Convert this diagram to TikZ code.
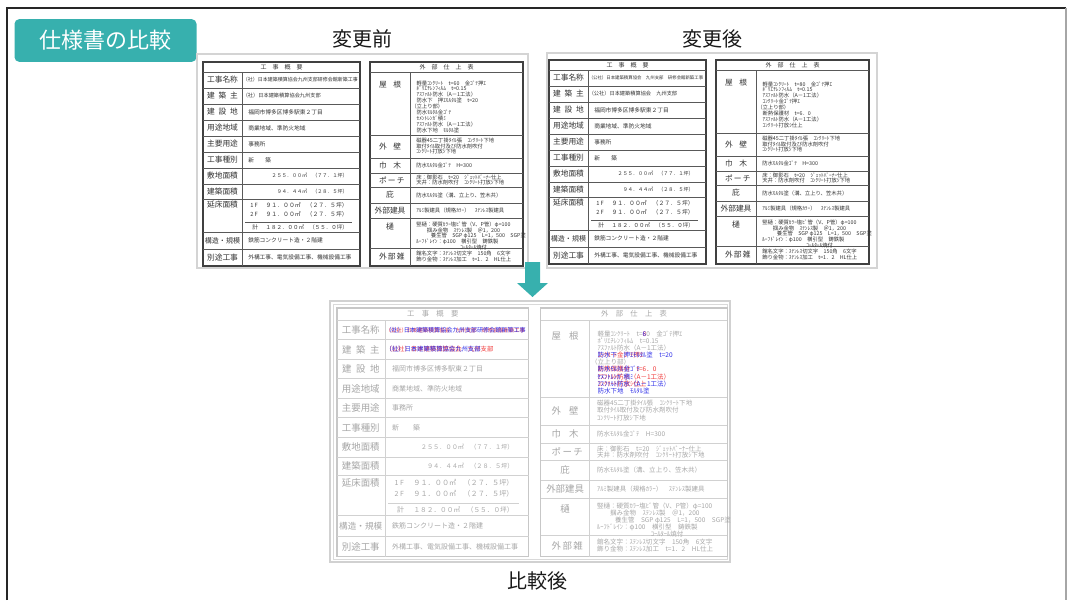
\documentclass[tikz,border=0pt]{standalone}
\usepackage{fontspec}
\newfontfamily\jp{Noto Sans CJK JP}

\definecolor{slideteal}{HTML}{37B0AE}
\definecolor{tabink}{HTML}{333333}
\definecolor{difold}{HTML}{3030E8}
\definecolor{difnew}{HTML}{F03A3A}

\newcommand{\jfont}[2]{\jp\fontsize{#1}{#2}\selectfont}
\newcommand{\jlab}[1]{\makebox[23pt][s]{#1}}
\newcommand{\jlabs}[1]{\makebox[16.5pt][s]{#1}}
\newcommand{\dif}[2]{\leavevmode\rlap{\color{difnew}#2}{\color{difold}#1}}

% texts that differ between the two versions
\newcommand{\nameA}{{\fontsize{3.75pt}{4pt}\selectfont （社）日本建築積算協会九州支部研修会館新築工事}}
\newcommand{\nameB}{{\fontsize{3.3pt}{4pt}\selectfont （公社）日本建築積算協会　九州支部　研修会館新築工事}}
\newcommand{\ownerA}{{\fontsize{3.9pt}{4pt}\selectfont （社）日本建築積算協会九州支部}}
\newcommand{\ownerB}{{\fontsize{3.9pt}{4pt}\selectfont （公社）日本建築積算協会　九州支部}}

\newcommand{\spectable}[4]{%
  % 工事概要
  \draw[tabedge] (0,0) rectangle (157,204);
  \foreach \yy in {10,26,42,58,74,90,106,122,137,170,187}
    \draw[tabrule] (0,\yy) -- (157,\yy);
  \draw[tabrule] (39.5,10) -- (39.5,204);
  \draw[tabrule] (42,160) -- (149,160);
  \node[hdr] (#1-hl) at (78.5,5) {工　事　概　要};
  \foreach \lb/\yy [count=\i] in {工事名称/18, \jlab{建 築 主}/34, \jlab{建 設 地}/50,
      用途地域/66, 主要用途/82, 工事種別/98, 敷地面積/114, 建築面積/129.5,
      延床面積/143, {\fontsize{5.3pt}{6pt}\selectfont 構造・規模}/178.5, 別途工事/195.5}
    \node[lbl] (#1-l\i) at (19.5,\yy) {\lb};
  \node[val] (#1-v1) at (39.5,18) {#2};
  \node[val] (#1-v2) at (39.5,34) {#3};
  \node[val] (#1-v3) at (45,50) {福岡市博多区博多駅東２丁目};
  \node[val] (#1-v4) at (45,66) {商業地域、準防火地域};
  \node[val] (#1-v5) at (45,82) {事務所};
  \node[val] (#1-v6) at (45,98) {新　　築};
  \node[num] (#1-v7) at (145,114) {２５５．００㎡　（７７．１坪）};
  \node[num] (#1-v8) at (145,129.5) {９４．４４㎡　（２８．５坪）};
  \node[val] (#1-f1) at (47,143) {1 F};
  \node[num, font=\jfont{4.4pt}{5pt}] (#1-v9) at (145,143) {９１．００㎡　（２７．５坪）};
  \node[val] (#1-f2) at (47,152.5) {2 F};
  \node[num, font=\jfont{4.4pt}{5pt}] (#1-v10) at (145,152.5) {９１．００㎡　（２７．５坪）};
  \node[val] (#1-f3) at (49,165.5) {計};
  \node[num, font=\jfont{4.1pt}{5pt}] (#1-v11) at (145,165.5) {１８２．００㎡　（５５．０坪）};
  \node[val] (#1-v12) at (45,178.5) {鉄筋コンクリート造・２階建};
  \node[val] (#1-v13) at (45,195.5) {外構工事、電気設備工事、機械設備工事};
  % 外部仕上表
  \draw[tabedge] (167,0) rectangle (320,204);
  \foreach \yy in {10,73,96,111,125,141,156,186}
    \draw[tabrule] (167,\yy) -- (320,\yy);
  \draw[tabrule] (207,10) -- (207,204);
  \node[hdr] (#1-hr) at (243.5,5) {外　部　仕　上　表};
  \foreach \lb/\yy [count=\i] in {\jlabs{屋 根}/23, \jlabs{外 壁}/84.5, \jlabs{巾 木}/103.5,
      \jlabs{ポ ー チ}/118, 庇/133, 外部建具/148.5, 樋/165, \jlabs{外 部 雑}/195}
    \node[lbl] (#1-r\i) at (187,\yy) {\lb};
  \node[spec] (#1-s1) at (208,44.5) {#4};
  \node[spec] (#1-s2) at (213,84) {磁器45二丁掛ﾀｲﾙ張　ｺﾝｸﾘｰﾄ下地\\取付ﾀｲﾙ取付及び防水剤吹付\\ｺﾝｸﾘｰﾄ打放ｼ下地};
  \node[spec] (#1-s3) at (213,103.5) {防水ﾓﾙﾀﾙ金ｺﾞﾃ　H=300};
  \node[spec, font=\jfont{4pt}{4.1pt}] (#1-s4) at (213,118) {床：御影石　t=20　ｼﾞｪｯﾄﾊﾞｰﾅｰ仕上\\天井：防水剤吹付　ｺﾝｸﾘｰﾄ打放ｼ下地};
  \node[spec] (#1-s5) at (213,133) {防水ﾓﾙﾀﾙ塗（溝、立上り、笠木共）};
  \node[spec] (#1-s6) at (213,148.5) {ｱﾙﾐ製建具（規格ｶﾗｰ）　ｽﾃﾝﾚｽ製建具};
  \node[spec] (#1-s7) at (213,173.8) {竪樋：硬質ｶﾗｰ塩ﾋﾞ管（V、P管）φ=100\\
    \hspace*{8pt}掴み金物　ｽﾃﾝﾚｽ製　＠1，200\\
    \hspace*{11pt}養生管　SGP φ125　L=1，500　SGP塗\\
    ﾙｰﾌﾄﾞﾚｲﾝ：φ100　横引型　鋳鉄製\\
    \hspace*{33pt}ｺｰﾙﾀｰﾙ焼付};
  \node[spec] (#1-s8) at (213,194.5) {館名文字：ｽﾃﾝﾚｽ切文字　150角　6文字\\飾り金物：ｽﾃﾝﾚｽ加工　t=1．2　HL仕上};
}

\begin{document}
\begin{tikzpicture}[x=0.75pt, y=-0.75pt,
  titlebox/.style={fill=slideteal, text=white, rounded corners=3.5pt, inner sep=0pt,
    minimum width=136.5pt, minimum height=32pt, font=\jfont{16.5pt}{18pt}},
  caption/.style={inner sep=0pt, text=black!90, font=\jfont{15pt}{16pt}},
  imgframe/.style={draw=black!17, line width=1.5pt},
  tabedge/.style={draw=black!75, line width=0.9pt},
  tabrule/.style={draw=black!65, line width=0.5pt},
  tabtxt/.style={inner sep=0pt, text=tabink},
  hdr/.style={tabtxt, font=\jfont{4.5pt}{5pt}},
  lbl/.style={tabtxt, font=\jfont{5.8pt}{6pt}},
  val/.style={tabtxt, anchor=west, font=\jfont{4.3pt}{5pt}},
  num/.style={tabtxt, anchor=east, font=\jfont{3.8pt}{5pt}},
  spec/.style={tabtxt, anchor=west, align=left, font=\jfont{4pt}{4.4pt}}]
  \useasboundingbox (0,0) rectangle (1067,600);

  % slide border
  \draw[line width=1.5pt, black!85] (6.5,600) -- (6.5,7.5) -- (1066,7.5);
  \draw[line width=0.8pt, black!35] (1066,7.5) -- (1066,600);

  \node[titlebox] (title) at (105.5,40.5) {仕様書の比較};
  \node[caption] (before) at (362,39) {変更前};
  \node[caption] (after) at (712,39) {変更後};
  \node[caption] (result) at (537,581) {比較後};

  % 変更前
  \draw[imgframe] (197,54) rectangle (528,268);
  \begin{scope}[shift={(203,62)}]
    \spectable{bef}{\nameA}{\ownerA}{%
      　軽量ｺﾝｸﾘｰﾄ　t=60　金ｺﾞﾃ押ｴ\\　ﾎﾟﾘｴﾁﾚﾝﾌｨﾙﾑ　t=0.15\\　ｱｽﾌｧﾙﾄ防水（A－1工法）\\
      　防水下　押ｴﾓﾙﾀﾙ塗　t=20\\（立上り部）\\　防水ﾓﾙﾀﾙ金ｺﾞﾃ\\　ｾﾒﾝﾄﾚﾝｶﾞ積ﾐ\\
      　ｱｽﾌｧﾙﾄ防水（A－1工法）\\　防水下地　ﾓﾙﾀﾙ塗}
  \end{scope}

  % 変更後
  \draw[imgframe] (547,53) rectangle (877,268);
  \begin{scope}[shift={(549,60)}]
    \spectable{aft}{\nameB}{\ownerB}{%
      　軽量ｺﾝｸﾘｰﾄ　t=80　金ｺﾞﾃ押ｴ\\　ﾎﾟﾘｴﾁﾚﾝﾌｨﾙﾑ　t=0.15\\　ｱｽﾌｧﾙﾄ防水（A－1工法）\\
      　ｺﾝｸﾘｰﾄ金ｺﾞﾃ押ｴ\\（立上り部）\\　断熱保護材　t=6．0\\
      　ｱｽﾌｧﾙﾄ防水（A－1工法）\\　ｺﾝｸﾘｰﾄ打放ｼ仕上}
  \end{scope}

  % arrow
  \coordinate (arrtop) at (532.5,262);
  \fill[slideteal] (arrtop) ++(-7.5,0) -- ++(15,0) -- ++(0,21) -- ++(8,0)
    -- ++(-15.5,14) -- ++(-15.5,-14) -- ++(8,0) -- cycle;

  % 比較後
  \draw[black!18, line width=1pt] (330,301) rectangle (730,562);
  \draw[black!15, line width=0.6pt] (333,304) rectangle (727,559);
  \begin{scope}[shift={(337,308)}, scale=1.22, transform shape,
      tabedge/.style={draw=black!22, line width=0.9pt},
      tabrule/.style={draw=black!18, line width=0.5pt},
      tabtxt/.style={inner sep=0pt, text=black!35}]
    \spectable{cmp}{\dif{\nameA}{\nameB}}{\dif{\ownerA}{\ownerB}}{%
      　軽量ｺﾝｸﾘｰﾄ　t=\dif{6}{8}0　金ｺﾞﾃ押ｴ\\　ﾎﾟﾘｴﾁﾚﾝﾌｨﾙﾑ　t=0.15\\　ｱｽﾌｧﾙﾄ防水（A－1工法）\\
      　\dif{防水下　押ｴﾓﾙﾀﾙ塗　t=20}{ｺﾝｸﾘｰﾄ金ｺﾞﾃ押ｴ}\\（立上り部）\\
      　\dif{防水ﾓﾙﾀﾙ金ｺﾞﾃ}{断熱保護材　t=6．0}\\
      　\dif{ｾﾒﾝﾄﾚﾝｶﾞ積ﾐ}{ｱｽﾌｧﾙﾄ防水（A－1工法）}\\
      　\dif{ｱｽﾌｧﾙﾄ防水（A－1工法）}{ｺﾝｸﾘｰﾄ打放ｼ仕上}\\
      　{\color{difold}防水下地　ﾓﾙﾀﾙ塗}}
  \end{scope}
\end{tikzpicture}
\end{document}
